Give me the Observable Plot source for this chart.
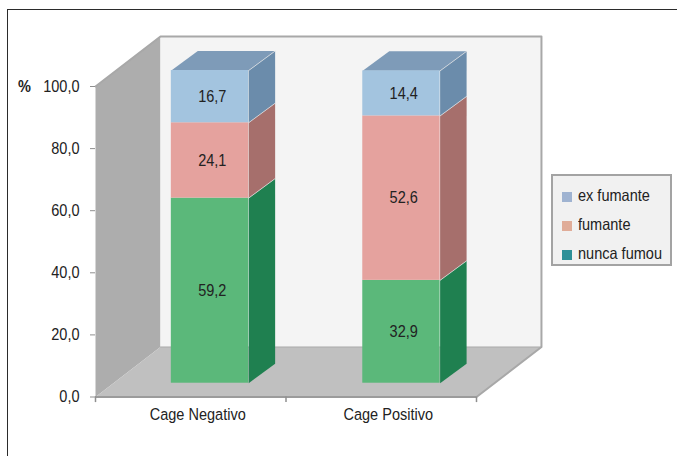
<!DOCTYPE html>
<html lang="pt">
<head>
<meta charset="utf-8">
<title>Cage</title>
<script src="https://cdn.jsdelivr.net/npm/d3@7"></script>
<script src="https://cdn.jsdelivr.net/npm/@observablehq/plot@0.6"></script>
<style>
  html, body { margin: 0; background: #fff; }
  #page { position: relative; width: 677px; height: 456px; overflow: hidden;
          font-family: "Liberation Sans", Arial, sans-serif; color: #222; }
  #frame { position: absolute; left: 7px; top: 9px; width: 680px; height: 460px;
           border: 1px solid #2b2b2b; box-sizing: border-box; }
  #page svg { position: absolute; left: 0; top: 0; }
  #legend { position: absolute; left: 551px; top: 174px; width: 121px; height: 92px;
            box-sizing: border-box; background: #f1f1f1; border: 2px solid #a3a3a3;
            font-size: 16.5px; }
  #legend div { position: absolute; left: 9px; height: 16px; line-height: 16px; white-space: nowrap; }
  #legend i { display: inline-block; width: 10px; height: 10px; margin-right: 6px; vertical-align: -1px; }
  #legend span { display: inline-block; transform: scaleX(0.88); transform-origin: left center; }
</style>
</head>
<body>
<div id="page">
  <div id="frame"></div>
  <div id="legend"></div>
</div>
<script>
// Smoking status by CAGE result (percent)
const categories = ["Cage Negativo", "Cage Positivo"];
const seriesNames = ["nunca fumou", "fumante", "ex fumante"];
const nuncaFumou = [59.2, 32.9];
const fumante = [24.1, 52.6];
const exFumante = [16.7, 14.4];
const yTicks = [0, 20, 40, 60, 80, 100];

// Face shades for each series, bottom to top of the stack
const frontColors = ["#5bb87a", "#e5a29e", "#a3c4df"];
const sideColors = ["#1f8050", "#a66f6c", "#6b8cab"];
const topColor = "#7e9bb8";
const legendColors = ["#2e9098", "#e0ac98", "#9fb3d1"];

// Oblique projection: depth is expressed as offsets in x and y scale units
const wallDx = 0.341, wallDy = 16.1;
const barCenters = [0.601, 1.606];
const barHalf = 0.203, barBase = 4.44, barStretch = 1.007;
const sideDx = 0.139, sideDy = 6.28;

const faces = [];
function addFace(id, fill, pts) {
  pts.forEach(([x, y]) => faces.push({id, fill, x, y}));
}
addFace("wall", "#adadad", [[0, 0], [wallDx, wallDy], [wallDx, 100 + wallDy], [0, 100]]);
addFace("back", "#f4f4f4", [[wallDx, wallDy], [2 + wallDx, wallDy], [2 + wallDx, 100 + wallDy], [wallDx, 100 + wallDy]]);
addFace("floor", "#c0c0c0", [[0, 0], [2, 0], [2 + wallDx, wallDy], [wallDx, wallDy]]);

const series = [nuncaFumou, fumante, exFumante];
const segments = [];
categories.forEach((name, c) => {
  let v0 = barBase;
  series.forEach((values, s) => {
    const v1 = v0 + values[c] * barStretch;
    const x0 = barCenters[c] - barHalf, x1 = barCenters[c] + barHalf;
    addFace(`side${c}${s}`, sideColors[s], [[x1, v0], [x1 + sideDx, v0 + sideDy], [x1 + sideDx, v1 + sideDy], [x1, v1]]);
    segments.push({x0, x1, v0, v1, fill: frontColors[s], value: values[c], mid: (v0 + v1) / 2, cx: barCenters[c] + 0.012});
    v0 = v1;
  });
  const x0 = barCenters[c] - barHalf, x1 = barCenters[c] + barHalf;
  addFace(`top${c}`, topColor, [[x0, v0], [x1, v0], [x1 + sideDx, v0 + sideDy], [x0 + sideDx, v0 + sideDy]]);
});

// Pale highlight along the upper edge of each stacked block
const edges = segments.flatMap((d, i) => [
  {id: i, x: d.x1, y: d.v1},
  {id: i, x: d.x1 + sideDx, y: d.v1 + sideDy}
]);

const wallOutline = [
  {x: 0, y: 100}, {x: wallDx, y: 100 + wallDy},
  {x: 2 + wallDx, y: 100 + wallDy}, {x: 2 + wallDx, y: wallDy}, {x: 2, y: 0}
];
const backBase = [{x: wallDx, y: wallDy}, {x: 2 + wallDx, y: wallDy}];

const textSize = 16.5;
const chart = Plot.plot({
  width: 677,
  height: 456,
  marginLeft: 95,
  marginRight: 201,
  marginTop: 86,
  marginBottom: 59.5,
  style: {fontFamily: "'Liberation Sans', Arial, sans-serif", fontSize: `${textSize}px`, background: "transparent", overflow: "visible"},
  x: {domain: [0, 2], range: [95, 476], axis: null},
  y: {domain: [0, 100], range: [396.5, 86], axis: null},
  color: {type: "identity"},
  marks: [
    Plot.line(faces, {x: "x", y: "y", z: "id", fill: "fill", stroke: null, filter: d => !/^(side|top)/.test(d.id)}),
    Plot.line(wallOutline, {x: "x", y: "y", stroke: "#a8a8a8", strokeWidth: 2}),
    Plot.line(backBase, {x: "x", y: "y", stroke: "#a9a9a9", strokeWidth: 1}),
    Plot.ruleY([0], {x1: 0, x2: 2, stroke: "#9b9b9b", strokeWidth: 2}),
    Plot.ruleX([0, 1, 2], {y1: 0, y2: -1.8, stroke: "#8f8f8f", strokeWidth: 1.5}),
    Plot.axisY({ticks: yTicks, tickFormat: d => d3.format(".1f")(d).replace(".", ","), tickSize: 5, tickPadding: 11, stroke: "#8f8f8f", fill: "#222", fontSize: textSize, label: null}),
    Plot.line(faces, {x: "x", y: "y", z: "id", fill: "fill", stroke: null, filter: d => /^(side|top)/.test(d.id)}),
    Plot.rect(segments, {x1: "x0", x2: "x1", y1: "v0", y2: "v1", fill: "fill"}),
    Plot.line(edges, {x: "x", y: "y", z: "id", stroke: "#e6e6e6", strokeOpacity: 0.7, strokeWidth: 1}),
    Plot.text(segments, {x: "cx", y: "mid", text: d => d3.format(".1f")(d.value).replace(".", ","), fill: "#222", fontSize: textSize}),
    Plot.text(categories, {x: (d, i) => i + 0.5, y: 0, text: d => d, dx: 7, dy: 18, fill: "#222", fontSize: textSize}),
    Plot.text(["%"], {x: 0, y: 100, dx: -71, fontWeight: "bold", fill: "#222", fontSize: textSize})
  ]
});

// Labels are set in a condensed width
chart.querySelectorAll("text").forEach(t => {
  t.setAttribute("transform", `${t.getAttribute("transform") || ""} scale(0.88,1)`);
});
document.getElementById("page").appendChild(chart);

// Legend box to the right of the plot
const legend = document.getElementById("legend");
[2, 1, 0].forEach((s, i) => {
  const row = document.createElement("div");
  row.style.top = `${11 + i * 29}px`;
  row.innerHTML = `<i style="background:${legendColors[s]}"></i><span>${seriesNames[s]}</span>`;
  legend.appendChild(row);
});
</script>
</body>
</html>
